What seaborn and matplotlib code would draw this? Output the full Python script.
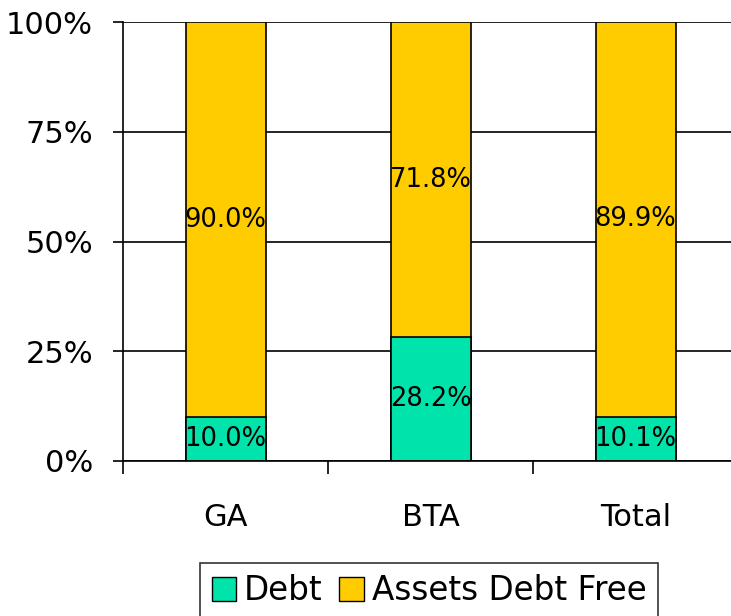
"""Debt vs assets debt free, 100% stacked bars."""

import matplotlib.pyplot as plt
import numpy as np
import pandas as pd
import seaborn as sns
from matplotlib.patches import Patch

categories = ["GA", "BTA", "Total"]
debt = [10.0, 28.2, 10.1]
debt_free = [90.0, 71.8, 89.9]
series_names = ["Debt", "Assets Debt Free"]
yticks = [0, 25, 50, 75, 100]

GREEN = "#00E3AA"
GOLD = "#FFCC00"

sns.set_theme(style="white")
plt.rcParams["font.family"] = ["DejaVu Sans"]
plt.rcParams["text.color"] = "black"
plt.rcParams["xtick.color"] = "black"
plt.rcParams["ytick.color"] = "black"

df = pd.DataFrame({"cat": categories, "debt": debt, "free": debt_free})
df["top"] = df["debt"] + df["free"]

fig = plt.figure(figsize=(7.31, 6.16), dpi=100)
ax = fig.add_axes([123 / 731, 1 - 461 / 616, 615 / 731, 439 / 616])

bw = 80 / 205
sns.barplot(data=df, x="cat", y="top", color=GOLD, width=bw, edgecolor="black",
            linewidth=1.2, saturation=1, ax=ax)
sns.barplot(data=df, x="cat", y="debt", color=GREEN, width=bw, edgecolor="black",
            linewidth=1.2, saturation=1, ax=ax)

# labels centred in each segment
for i, row in df.iterrows():
    ax.text(i, row["debt"] / 2, f"{row['debt']:.1f}%", ha="center", va="center",
            fontsize=18.5, color="black")
    ax.text(i, row["debt"] + row["free"] / 2, f"{row['free']:.1f}%", ha="center",
            va="center", fontsize=18.5, color="black")

ax.set_ylim(0, 100)
ax.set_xlim(-0.5, len(categories) - 0.5)
ax.set_yticks(yticks)
ax.set_yticklabels([f"{t}%" for t in yticks], fontsize=22)
ax.yaxis.grid(True, color="black", linewidth=1.2)
ax.set_axisbelow(True)

ax.set_xticks(np.arange(len(categories) + 1) - 0.5, minor=False)
ax.set_xticklabels([])
ax.set_xticks(np.arange(len(categories)), minor=True)
ax.set_xticklabels(categories, minor=True, fontsize=22)
ax.tick_params(axis="x", which="major", length=9, width=1.2, color="black",
               direction="out", bottom=True)
ax.tick_params(axis="x", which="minor", length=0, pad=30)
ax.tick_params(axis="y", length=7.5, width=1.2, color="black", direction="out",
               left=True, pad=14)
ax.set_xlabel("")
ax.set_ylabel("")

for side in ["top", "right"]:
    ax.spines[side].set_visible(False)
for side in ["left", "bottom"]:
    ax.spines[side].set_color("black")
    ax.spines[side].set_linewidth(1.2)

handles = [Patch(facecolor=GREEN, edgecolor="black"), Patch(facecolor=GOLD, edgecolor="black")]
leg = fig.legend(handles, series_names, loc="upper center", bbox_to_anchor=(429 / 731, 1 - 563 / 616),
                 ncol=2, fontsize=23.5, frameon=True, fancybox=False, handlelength=0.75,
                 handleheight=0.75, handletextpad=0.25, columnspacing=0.5, borderpad=0.35,
                 borderaxespad=0)
leg.get_frame().set_edgecolor("black")
leg.get_frame().set_linewidth(1.2)

plt.savefig("out.png", dpi=100)
plt.close(fig)
